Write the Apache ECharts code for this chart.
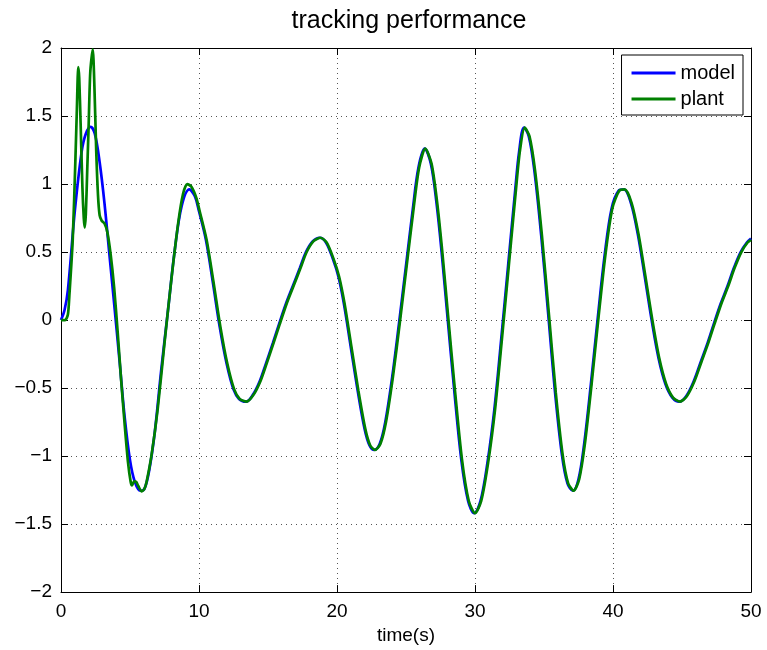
<!DOCTYPE html>
<html>
<head>
<meta charset="utf-8">
<script src="https://cdn.jsdelivr.net/npm/echarts@6/dist/echarts.min.js"></script>
<style>
  html, body { margin: 0; padding: 0; background: #fff; }
  #chart { width: 767px; height: 650px; }
</style>
</head>
<body>
<div id="chart"></div>
<script>
// Reference model output: time (s) and value
const modelT = [0, 0.25, 0.5, 1.0, 1.5, 1.8, 2.15, 2.45, 2.8, 3.15, 3.5, 3.9, 4.25, 4.6, 5.0, 5.35, 5.75, 6.05, 6.4, 6.8,
  7.25, 7.75, 8.25, 8.75, 9.3, 9.7, 10.0, 10.5, 11.0, 11.5, 12.0, 12.5, 12.9, 13.4, 13.9, 14.4, 14.85, 15.35, 15.8, 16.3,
  16.8, 17.3, 17.75, 18.25, 18.75, 19.2, 19.7, 20.1, 20.5, 21.0, 21.5, 22.0, 22.35, 22.7, 23.1, 23.5, 24.0, 24.5, 25.0, 25.5,
  25.9, 26.35, 26.8, 27.2, 27.6, 28.0, 28.5, 29.0, 29.5, 29.95, 30.4, 30.9, 31.4, 31.9, 32.4, 32.9, 33.2, 33.55, 33.9, 34.3,
  34.8, 35.3, 35.8, 36.3, 36.7, 37.1, 37.5, 37.9, 38.4, 38.9, 39.4, 39.9, 40.4, 40.8, 41.3, 41.8, 42.3, 42.8, 43.3, 43.8,
  44.3, 44.8, 45.3, 45.85, 46.35, 46.85, 47.3, 47.8, 48.3, 48.75, 49.25, 49.7, 50.0];
const modelV = [0, 0.07, 0.22, 0.80, 1.24, 1.37, 1.42, 1.37, 1.16, 0.86, 0.49, 0.07, -0.31, -0.70, -1.03, -1.19, -1.255, -1.24, -1.10, -0.82,
  -0.38, 0.07, 0.52, 0.84, 0.96, 0.91, 0.80, 0.59, 0.28, -0.05, -0.32, -0.51, -0.58, -0.60, -0.55, -0.45, -0.32, -0.17, -0.03, 0.12,
  0.25, 0.38, 0.50, 0.58, 0.605, 0.57, 0.45, 0.32, 0.12, -0.20, -0.52, -0.80, -0.92, -0.955, -0.91, -0.75, -0.42, -0.02, 0.40, 0.82,
  1.12, 1.26, 1.15, 0.87, 0.48, 0.03, -0.52, -1.02, -1.33, -1.42, -1.33, -1.05, -0.66, -0.14, 0.40, 0.94, 1.24, 1.415, 1.35, 1.10,
  0.62, 0.05, -0.53, -0.99, -1.20, -1.255, -1.17, -0.92, -0.47, 0.02, 0.48, 0.82, 0.95, 0.96, 0.86, 0.63, 0.32, 0.00, -0.28, -0.47,
  -0.57, -0.60, -0.56, -0.45, -0.31, -0.17, -0.03, 0.12, 0.25, 0.38, 0.50, 0.57, 0.60];

// Plant output: time (s) and value
const plantT = [0, 0.3, 0.5, 0.6, 0.85, 1.05, 1.15, 1.25, 1.32, 1.42, 1.55, 1.65, 1.72, 1.8, 1.9, 2.0, 2.12, 2.3, 2.42, 2.55,
  2.68, 2.8, 2.95, 3.15, 3.35, 3.6, 3.85, 4.1, 4.35, 4.6, 4.85, 5.05, 5.15, 5.3, 5.45, 5.6, 5.85, 6.05, 6.2, 6.55,
  7.0, 7.5, 8.0, 8.5, 8.85, 9.15, 9.45, 9.8, 10.05, 10.55, 11.05, 11.55, 12.05, 12.55, 12.95, 13.45, 13.95, 14.45, 14.9, 15.4,
  15.85, 16.35, 16.85, 17.35, 17.8, 18.3, 18.8, 19.25, 19.75, 20.15, 20.55, 21.05, 21.55, 22.05, 22.4, 22.75, 23.15, 23.55, 24.05, 24.55,
  25.05, 25.55, 25.95, 26.4, 26.85, 27.25, 27.65, 28.05, 28.55, 29.05, 29.55, 30.0, 30.45, 30.95, 31.45, 31.95, 32.45, 32.95, 33.25, 33.6,
  33.95, 34.35, 34.85, 35.35, 35.85, 36.35, 36.75, 37.15, 37.55, 37.95, 38.45, 38.95, 39.45, 39.95, 40.45, 40.85, 41.35, 41.85, 42.35, 42.85,
  43.35, 43.85, 44.35, 44.85, 45.35, 45.9, 46.4, 46.9, 47.35, 47.85, 48.35, 48.8, 49.3, 49.75, 50.0];
const plantV = [0, 0.0, 0.04, 0.17, 0.59, 1.2, 1.55, 1.86, 1.78, 1.45, 0.98, 0.75, 0.68, 0.78, 1.1, 1.42, 1.82, 1.99, 1.72, 1.25,
  0.92, 0.77, 0.73, 0.71, 0.65, 0.48, 0.24, -0.08, -0.43, -0.75, -1.04, -1.19, -1.215, -1.185, -1.19, -1.22, -1.26, -1.24, -1.19, -1.0,
  -0.66, -0.17, 0.30, 0.72, 0.93, 1.0, 0.98, 0.90, 0.80, 0.59, 0.28, -0.05, -0.32, -0.51, -0.58, -0.60, -0.55, -0.45, -0.32, -0.17,
  -0.03, 0.12, 0.25, 0.38, 0.50, 0.58, 0.605, 0.57, 0.45, 0.32, 0.12, -0.20, -0.52, -0.80, -0.92, -0.955, -0.91, -0.75, -0.42, -0.02,
  0.40, 0.82, 1.12, 1.26, 1.15, 0.87, 0.48, 0.03, -0.52, -1.02, -1.33, -1.42, -1.33, -1.05, -0.66, -0.14, 0.40, 0.94, 1.24, 1.415,
  1.35, 1.10, 0.62, 0.05, -0.53, -0.99, -1.20, -1.255, -1.17, -0.92, -0.47, 0.02, 0.48, 0.82, 0.95, 0.96, 0.86, 0.63, 0.32, 0.00,
  -0.28, -0.47, -0.57, -0.60, -0.56, -0.45, -0.31, -0.17, -0.03, 0.12, 0.25, 0.38, 0.50, 0.57, 0.59];

const seriesNames = ['model', 'plant'];
const xTicks = { min: 0, max: 50, step: 10 };
const yTicks = { min: -2, max: 2, step: 0.5 };

const zip = (xs, ys) => xs.map((x, i) => [x, ys[i]]);
const FONT = 'Liberation Sans, Arial, Helvetica, sans-serif';
const minus = v => String(v).replace('-', '\u2212');

const chart = echarts.init(document.getElementById('chart'), null, { renderer: 'canvas' });

const gridLine = { show: true, lineStyle: { color: '#555', width: 1, type: [1, 4] } };
const tickIn = { show: true, inside: true, length: 7, lineStyle: { color: '#000', width: 1 } };
const axisLine = { show: true, onZero: false, lineStyle: { color: '#000', width: 1 } };

chart.setOption({
  animation: false,
  backgroundColor: '#fff',
  title: {
    text: 'tracking performance',
    left: 404,
    top: 4,
    textAlign: 'center',
    textStyle: { fontFamily: FONT, fontSize: 25, fontWeight: 'normal', color: '#000' }
  },
  legend: {
    data: seriesNames,
    orient: 'vertical',
    right: 24,
    top: 55,
    padding: [8, 8, 6, 10],
    itemGap: 6,
    itemWidth: 44,
    itemHeight: 3,
    icon: 'rect',
    backgroundColor: '#fff',
    borderColor: '#000',
    borderWidth: 1,
    borderRadius: 0,
    textStyle: { fontFamily: FONT, fontSize: 20, color: '#000', padding: [0, 0, 0, 0] }
  },
  grid: { left: 61, right: 16, top: 48, bottom: 57, containLabel: false },
  xAxis: [
    {
      type: 'value', min: xTicks.min, max: xTicks.max, interval: xTicks.step,
      name: 'time(s)', nameLocation: 'middle', nameGap: 31,
      nameTextStyle: { fontFamily: FONT, fontSize: 19, color: '#000' },
      axisLine, axisTick: tickIn, splitLine: gridLine,
      axisLabel: { fontFamily: FONT, fontSize: 19, color: '#000', margin: 10 }
    },
    {
      type: 'value', position: 'top', min: xTicks.min, max: xTicks.max, interval: xTicks.step,
      axisLine, axisTick: tickIn, splitLine: { show: false }, axisLabel: { show: false }
    }
  ],
  yAxis: [
    {
      type: 'value', min: yTicks.min, max: yTicks.max, interval: yTicks.step,
      axisLine, axisTick: tickIn, splitLine: gridLine,
      axisLabel: { fontFamily: FONT, fontSize: 19, color: '#000', margin: 9, formatter: v => minus(v) }
    },
    {
      type: 'value', position: 'right', min: yTicks.min, max: yTicks.max, interval: yTicks.step,
      axisLine, axisTick: tickIn, splitLine: { show: false }, axisLabel: { show: false }
    }
  ],
  series: [
    {
      name: seriesNames[0], type: 'line', xAxisIndex: 0, yAxisIndex: 0,
      data: zip(modelT, modelV), showSymbol: false, smooth: 0.35,
      lineStyle: { color: '#0000ff', width: 2.7 }, itemStyle: { color: '#0000ff' }, z: 2
    },
    {
      name: seriesNames[1], type: 'line', xAxisIndex: 0, yAxisIndex: 0,
      data: zip(plantT, plantV), showSymbol: false, smooth: 0.25,
      lineStyle: { color: '#008000', width: 2.7 }, itemStyle: { color: '#008000' }, z: 3
    }
  ]
});
</script>
</body>
</html>
